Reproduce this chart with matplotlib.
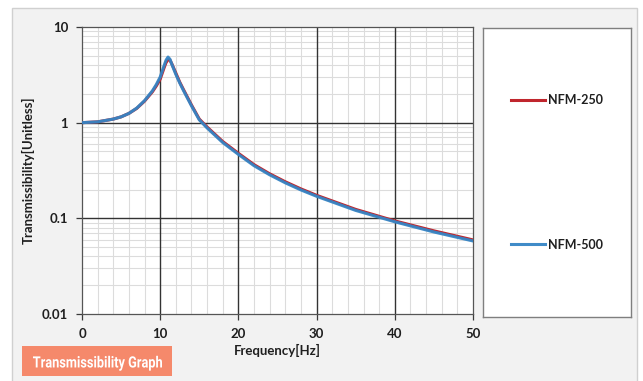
import matplotlib.pyplot as plt
from matplotlib.patches import Rectangle, PathPatch
from matplotlib.textpath import TextPath
from matplotlib.font_manager import FontProperties
from matplotlib.transforms import Affine2D
from matplotlib.ticker import FixedLocator, NullFormatter, LogLocator
import numpy as np

# datos
freq = [0, 2, 4, 5, 6, 7, 8, 9, 9.5, 10, 10.5, 10.75, 11, 11.25, 11.5, 12, 12.5, 13,
        14, 15, 16, 18, 20, 22, 24, 26, 28, 30, 35, 40, 45, 50]
nfm_250 = [1.0, 1.02, 1.09, 1.15, 1.25, 1.41, 1.68, 2.1, 2.42, 2.85, 3.75, 4.25, 4.55,
           4.5, 4.1, 3.3, 2.65, 2.2, 1.53, 1.09, 0.9, 0.635, 0.478, 0.364, 0.292,
           0.241, 0.203, 0.174, 0.124, 0.094, 0.074, 0.0595]
nfm_500 = [1.0, 1.02, 1.09, 1.15, 1.25, 1.42, 1.7, 2.15, 2.5, 3.0, 3.95, 4.5, 4.85,
           4.6, 4.05, 3.2, 2.6, 2.15, 1.5, 1.07, 0.88, 0.62, 0.466, 0.355, 0.285,
           0.235, 0.198, 0.17, 0.121, 0.092, 0.072, 0.058]
series_names = ["NFM-250", "NFM-500"]
x_ticks = [0, 10, 20, 30, 40, 50]
y_ticks = [0.01, 0.1, 1, 10]
y_tick_labels = ["0.01", "0.1", "1", "10"]

plt.rcParams['font.family'] = ['Lato', 'DejaVu Sans']

fig = plt.figure(figsize=(6.43, 3.81), dpi=100)
fig.patch.set_facecolor('white')

# marco exterior gris
fig.patches.append(Rectangle((12/643, -0.05), 625/643, 1.05 - 8/381,
                             transform=fig.transFigure, facecolor='#f2f2f2',
                             edgecolor='#d0d0d0', lw=1, zorder=-10))

ax = fig.add_axes([82/643, 1-314/381, (473-82)/643, (314-27)/381])
ax.set_facecolor('white')

l1, = ax.plot(freq, nfm_250, color='#c0262d', lw=2.2, zorder=3)
l2, = ax.plot(freq, nfm_500, color='#3585c5', lw=2.2, zorder=4, alpha=0.95)

ax.set_yscale('log')
ax.set_xlim(0, 50)
ax.set_ylim(0.01, 10)

ax.xaxis.set_major_locator(FixedLocator(x_ticks))
ax.xaxis.set_minor_locator(FixedLocator(np.arange(0, 51, 2)))
ax.yaxis.set_major_locator(FixedLocator(y_ticks))
ax.yaxis.set_minor_locator(LogLocator(base=10, subs=np.arange(2, 10)))
ax.yaxis.set_minor_formatter(NullFormatter())
ax.set_yticklabels(y_tick_labels)

# rejilla menor clara, la mayor encima con lineas oscuras
ax.grid(which='minor', color='#dcdcdc', lw=0.8)
ax.set_axisbelow(True)
for xv in x_ticks[1:-1]:
    ax.axvline(xv, color='#333333', lw=1.0, zorder=1.5)
for yv in y_ticks[1:-1]:
    ax.axhline(yv, color='#333333', lw=1.0, zorder=1.5)

ax.tick_params(which='minor', length=0)
ax.tick_params(which='major', direction='out', length=4, width=0.9, color='#3a3a3a',
               labelsize=9.5, pad=6)
for lab in ax.get_xticklabels() + ax.get_yticklabels():
    lab.set_fontweight('bold')
    lab.set_color('#1f1f1f')
for s in ax.spines.values():
    s.set_color('#555555')
    s.set_linewidth(0.9)

ax.set_xlabel("Frequency[Hz]", fontsize=9.5, fontweight='bold', color='#1f1f1f', labelpad=3)
ax.set_ylabel("Transmissibility[Unitless]", fontsize=9.5, fontweight='bold',
              color='#1f1f1f', labelpad=5)

# caja de la leyenda
lax = fig.add_axes([483/643, 1-317/381, (631-483)/643, (317-28)/381])
lax.set_xticks([])
lax.set_yticks([])
lax.set_facecolor('white')
for s in lax.spines.values():
    s.set_color('#7f7f7f')
    s.set_linewidth(1)
lax.legend([l1, l2], series_names, loc='center', frameon=False,
           prop={'weight': 'bold', 'size': 9}, labelspacing=10.6,
           handlelength=2.7, handletextpad=0.25, labelcolor='#1f1f1f')

# etiqueta naranja
fig.patches.append(Rectangle((22/643, 1-376/381), 150/643, 30/381,
                             transform=fig.transFigure, facecolor='#f5896b',
                             edgecolor='none', zorder=5))
# texto estrecho: se escala el trazo
tp = TextPath((0, 0), "Transmissibility Graph", size=15,
              prop=FontProperties(family='Roboto', weight='bold'))
bb = tp.get_extents()
sx = 129 / bb.width
sy = 15 / bb.height
tr = Affine2D().translate(-bb.x0 - bb.width/2, -bb.y0 - bb.height/2).scale(sx, sy)
tr = tr.translate(97.5, 381 - 363.3)
fig.patches.append(PathPatch(tr.transform_path(tp), facecolor='white', edgecolor='none',
                             transform=None, zorder=6))

plt.savefig('out.png', dpi=100)
